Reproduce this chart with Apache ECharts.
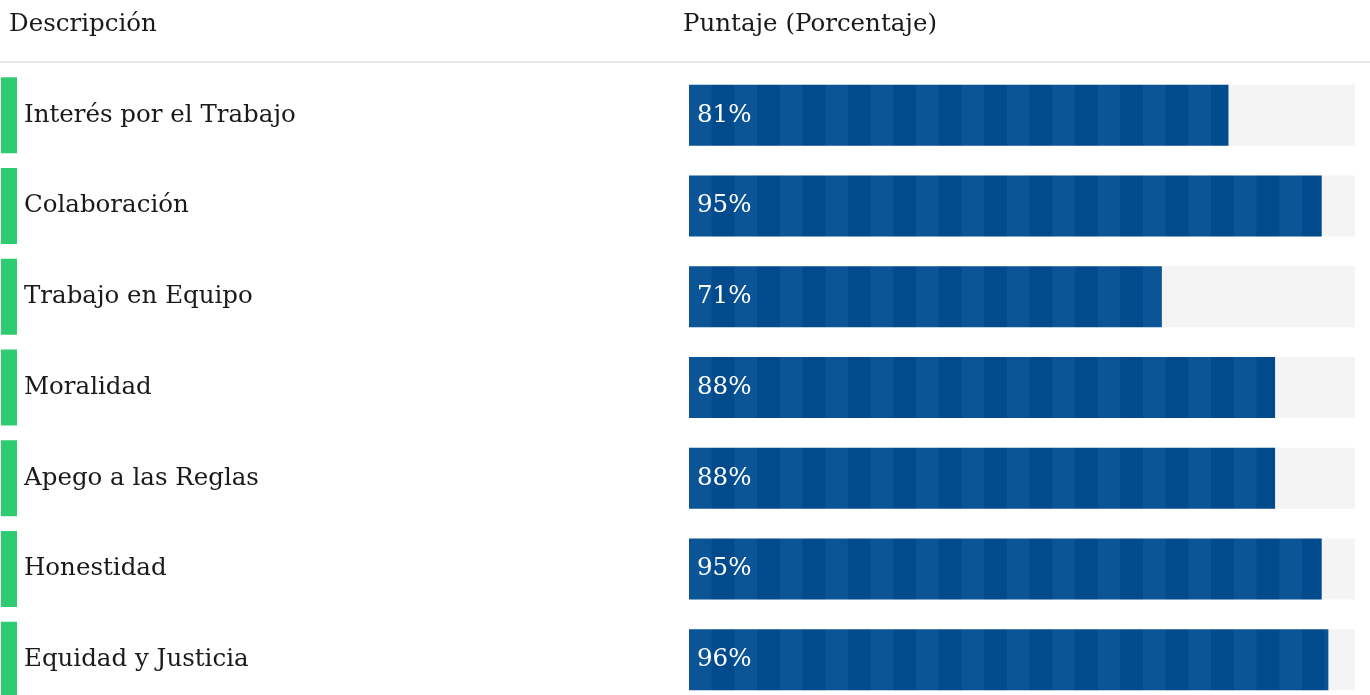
<!DOCTYPE html>
<html>
<head>
<meta charset="utf-8">
<script src="https://cdn.jsdelivr.net/npm/echarts@6/dist/echarts.min.js"></script>
<style>
  html, body { margin: 0; padding: 0; background: #fff; }
  #chart { width: 1370px; height: 695px; }
</style>
</head>
<body>
<div id="chart"></div>
<script>
// datos del gráfico
var categories = ['Interés por el Trabajo', 'Colaboración', 'Trabajo en Equipo', 'Moralidad', 'Apego a las Reglas', 'Honestidad', 'Equidad y Justicia'];
var scores = [81, 95, 71, 88, 88, 95, 96];
var headers = ['Descripción', 'Puntaje (Porcentaje)'];

var FONT = '"DejaVu Serif", "Liberation Serif", serif';

// patrón de franjas verticales (fase alineada con el inicio de la barra, x = 689)
var stripe = document.createElement('canvas');
stripe.width = 454;
stripe.height = 8;
var ctx = stripe.getContext('2d');
ctx.fillStyle = '#014a8c';
ctx.fillRect(0, 0, 454, 8);
ctx.fillStyle = '#0b5496';
for (var i = 0; i < 10; i++) {
    ctx.fillRect(8 + i * 45.4, 0, 22.7, 8);
}

var myChart = echarts.init(document.getElementById('chart'));

var option = {
    animation: false,
    graphic: [
        { type: 'text', left: 9, top: 12, style: { text: headers[0], font: '24.5px ' + FONT, fill: '#1a1a1a' } },
        { type: 'text', left: 683, top: 12, style: { text: headers[1], font: '24.5px ' + FONT, fill: '#1a1a1a' } },
        { type: 'line', shape: { x1: 0, y1: 62, x2: 1370, y2: 62 }, style: { stroke: '#e0e0e0', lineWidth: 1.5 } }
    ],
    grid: {
        left: 689,
        right: 15,
        top: 70,
        height: 635,
        containLabel: false,
        outerBoundsMode: 'none'
    },
    xAxis: {
        type: 'value',
        min: 0,
        max: 100,
        show: false
    },
    yAxis: {
        type: 'category',
        inverse: true,
        data: categories,
        axisLine: { show: false },
        axisTick: { show: false },
        splitLine: { show: false },
        axisLabel: {
            align: 'left',
            margin: 688,
            formatter: function (v) {
                return '{bar|}{name|' + v + '}';
            },
            rich: {
                bar: { width: 16, height: 76, backgroundColor: '#2ecc71' },
                name: { fontFamily: FONT, fontSize: 24.5, color: '#1a1a1a', padding: [0, 0, 0, 7] }
            }
        }
    },
    series: [
        {
            type: 'bar',
            data: scores,
            barWidth: 61,
            showBackground: true,
            backgroundStyle: { color: '#f4f4f4' },
            itemStyle: {
                color: { image: stripe, repeat: 'repeat' }
            },
            label: {
                show: true,
                position: 'insideLeft',
                distance: 8,
                formatter: '{c}%',
                color: '#fff',
                fontFamily: FONT,
                fontSize: 24.5
            }
        }
    ]
};

myChart.setOption(option);
</script>
</body>
</html>
